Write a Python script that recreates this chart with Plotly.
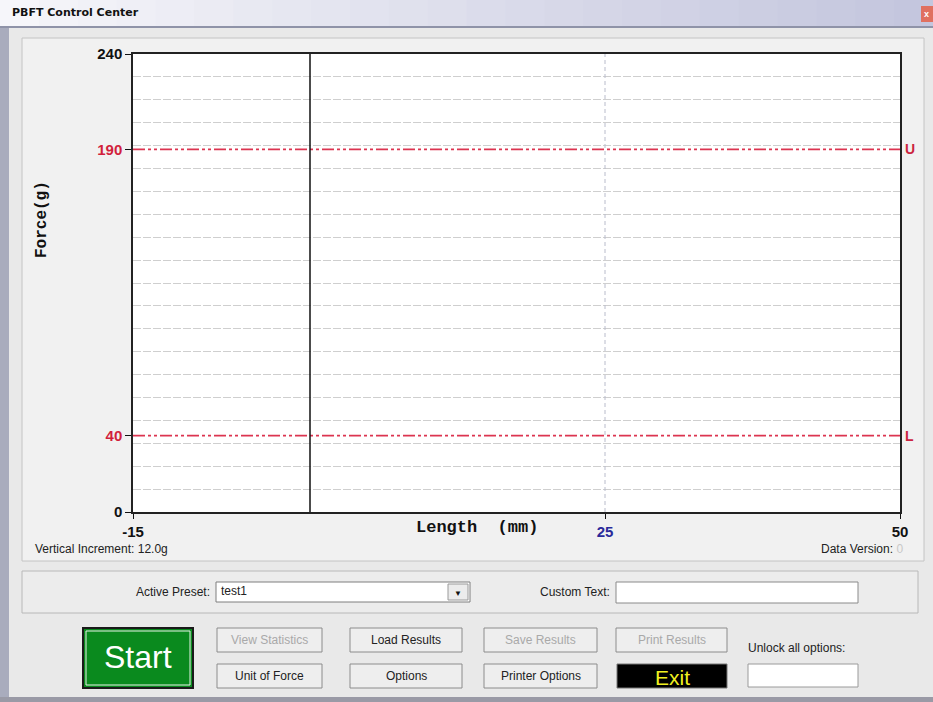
import plotly.graph_objects as go

W, H = 933, 702

# ---- data ----
x_range = [-15, 50]
y_range = [0, 240]
y_increment = 12
upper_limit = 190
lower_limit = 40
cursor_x = 0
center_x = 25
y_tick_vals = [0, 40, 190, 240]
y_tick_text = ["0", "<span style='color:#d21f3c'>40</span>",
               "<span style='color:#d21f3c'>190</span>", "240"]
x_tick_vals = [-15, 25, 50]
x_tick_text = ["-15", "<span style='color:#2a2a9a'>25</span>", "50"]

def X(px):
    return px / W

def Y(py):
    return 1 - py / H

shapes = []
ann = []

def rect(x0, y0, x1, y1, fill, line="rgba(0,0,0,0)", lw=1):
    shapes.append(dict(type="rect", xref="paper", yref="paper", layer="below",
                       x0=X(x0), x1=X(x1), y0=Y(y1), y1=Y(y0),
                       fillcolor=fill, line=dict(color=line, width=lw)))

def text(px, py, s, size=12, color="#222", xanchor="center", family="Liberation Sans, Arial", bold=False, angle=0):
    if bold:
        s = "<b>" + s + "</b>"
    ann.append(dict(xref="paper", yref="paper", x=X(px), y=Y(py), text=s, showarrow=False,
                    xanchor=xanchor, yanchor="middle", textangle=angle,
                    font=dict(size=size, color=color, family=family)))

# window background
rect(0, 0, W, H, "#e9e9e9")
rect(0, 0, 9, H, "#a9acbd")
rect(0, 697, W, H, "#9a9aa6")
# title bar gradient
n = 24
c0 = (246, 246, 250); c1 = (196, 198, 222)
for i in range(n):
    t = i / (n - 1)
    c = tuple(int(c0[k] + (c1[k] - c0[k]) * t) for k in range(3))
    rect(W * i / n, 0, W * (i + 1) / n + 1, 26, "rgb(%d,%d,%d)" % c)
rect(0, 26, W, 28, "#8f93a8")
rect(921, 6, 933, 22, "#e07060")
text(926, 14, "x", size=9, color="white", bold=True)
text(10, 13, "PBFT Control Center", size=11, color="#111", xanchor="left",
     family="DejaVu Sans, Verdana", bold=True)

# chart panel
rect(22, 38, 924, 561, "#f1f1f1", "#c4c4c4")
rect(133, 54, 900, 512, "#ffffff")

# lower group box
rect(22, 571, 918, 613, "#ececec", "#b8b8b8")
text(212, 592, "Active Preset:", size=12, xanchor="right")
rect(216, 582, 470, 602, "#ffffff", "#7f7f7f")
rect(448, 584, 468, 600, "#ececec", "#9a9a9a")
text(458, 593, "▼", size=8, color="#111")
text(219, 591, "test1", size=12, xanchor="left")
text(612, 592, "Custom Text:", size=12, xanchor="right")
rect(616, 582, 858, 603, "#ffffff", "#8a8a8a")

# buttons
def button(x0, y0, x1, y1, label, enabled=True):
    rect(x0, y0, x1, y1, "#eeeeee", "#8c8c8c")
    text((x0 + x1) / 2, (y0 + y1) / 2, label, size=12,
         color="#222" if enabled else "#a9a9a9")

rect(83, 628, 193, 688, "#0a8a1e", "#1a1a1a", 2)
rect(86, 631, 190, 685, "rgba(0,0,0,0)", "#e8f4e8", 1)
text(138, 657, "Start", size=32, color="#ffffff")
button(217, 628, 322, 652, "View Statistics", False)
button(350, 628, 462, 652, "Load Results")
button(484, 628, 597, 652, "Save Results", False)
button(616, 628, 727, 652, "Print Results", False)
text(796, 648, "Unlock all options:", size=12)
button(217, 664, 322, 688, "Unit of Force")
button(350, 664, 462, 688, "Options")
button(484, 664, 597, 688, "Printer Options")
rect(617, 664, 727, 688, "#000000", "#777777")
text(672, 677, "Exit", size=21, color="#f0f020")
rect(748, 664, 858, 687, "#ffffff", "#9a9a9a")

# chart texts
text(33, 549, "Vertical Increment: " + f"{y_increment:.1f}g", size=12, xanchor="left")
text(905, 549, "Data Version: <span style='color:#c8c8c8'>0</span>", size=12, xanchor="right")
text(477, 527, "Length&nbsp; (mm)", size=17, color="#111",
     family="Liberation Mono, Courier New", bold=True)
text(42, 220, "Force(g)", size=16, color="#111",
     family="Liberation Mono, Courier New", bold=True, angle=-90)

fig = go.Figure()
red = "#dc3450"
for val, lab in [(upper_limit, "U"), (lower_limit, "L")]:
    fig.add_trace(go.Scatter(x=x_range, y=[val, val], mode="lines",
                             line=dict(color=red, width=1.6, dash="12px,3px,3px,3px,3px,3px"),
                             hoverinfo="skip"))
    ann.append(dict(xref="x", yref="y", x=x_range[1], y=val, text="<b>" + lab + "</b>",
                    showarrow=False, xanchor="left", xshift=3, yanchor="middle",
                    font=dict(size=14, color="#cc2440", family="Liberation Sans, Arial")))
fig.add_trace(go.Scatter(x=[center_x, center_x], y=y_range, mode="lines",
                         line=dict(color="#b9bccb", width=1, dash="4px,3px"), hoverinfo="skip"))
fig.add_trace(go.Scatter(x=[cursor_x, cursor_x], y=y_range, mode="lines",
                         line=dict(color="#111111", width=1.5), hoverinfo="skip"))

tickfont = dict(size=15, color="#111", family="Liberation Sans, Arial")
fig.update_layout(
    width=W, height=H, margin=dict(l=0, r=0, t=0, b=0, autoexpand=False),
    paper_bgcolor="#e9e9e9", plot_bgcolor="#ffffff", showlegend=False,
    shapes=shapes, annotations=ann,
    xaxis=dict(range=x_range, domain=[X(133), X(900)], showgrid=False, zeroline=False,
               automargin=False,
               tickvals=x_tick_vals, ticktext=["<b>%s</b>" % t for t in x_tick_text],
               ticks="outside", ticklen=5, tickcolor="#111", tickfont=tickfont,
               showline=True, linecolor="#222", linewidth=1.5, mirror=True),
    yaxis=dict(range=y_range, domain=[Y(512), Y(54)], showgrid=False, zeroline=False,
               automargin=False,
               tickvals=y_tick_vals, ticktext=["<b>%s</b>" % t for t in y_tick_text],
               ticks="outside", ticklen=6, tickcolor="#111", tickfont=tickfont,
               showline=True, linecolor="#222", linewidth=1.5, mirror=True,
               minor=dict(dtick=y_increment, tick0=0, showgrid=True, gridcolor="#cfcfcf",
                          griddash="8px,2px", gridwidth=1, ticks="")),
)
fig.write_html("out.html", config={"displayModeBar": False},
               post_script="document.body.style.margin='0';document.body.style.overflow='hidden';")
